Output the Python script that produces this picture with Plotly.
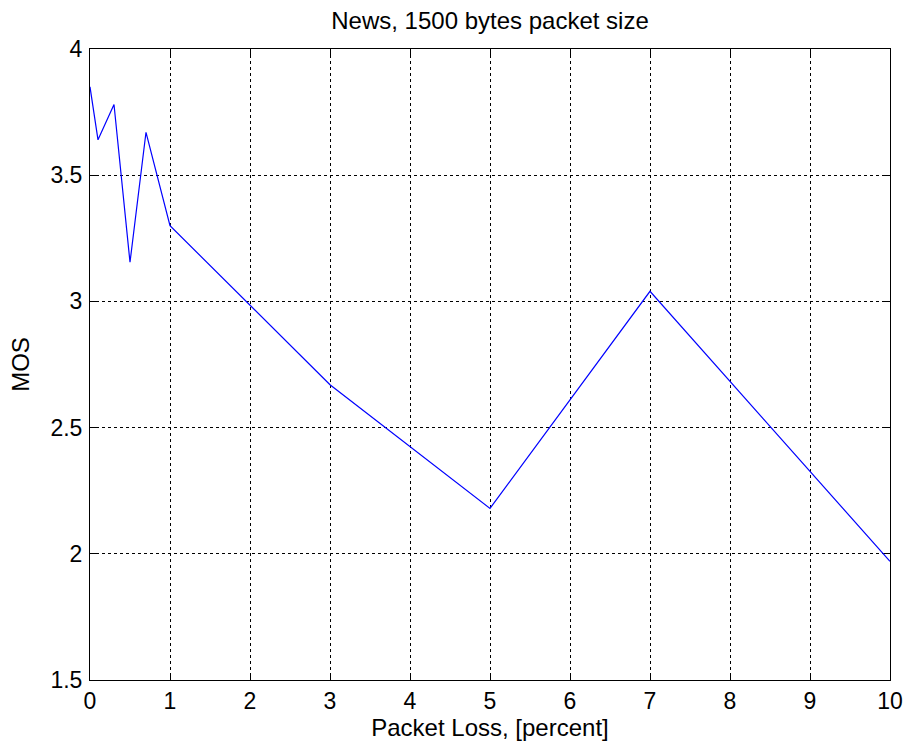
import plotly.graph_objects as go

packet_loss = [0, 0.1, 0.3, 0.5, 0.7, 1, 3, 5, 7, 10]
mos = [3.85, 3.64, 3.78, 3.155, 3.67, 3.30, 2.67, 2.18, 3.04, 1.97]

x_ticks = list(range(0, 11))
y_ticks = [1.5, 2, 2.5, 3, 3.5, 4]
y_tick_labels = ["1.5", "2", "2.5", "3", "3.5", "4"]

font_family = "Liberation Sans, Arial, sans-serif"
fs_tick = 23
fs_text = 24

fig = go.Figure()
fig.add_trace(go.Scatter(x=packet_loss, y=mos, mode="lines",
                         line=dict(color="#0000ff", width=1.2), showlegend=False))

axis_common = dict(showline=True, linecolor="black", linewidth=1, mirror="ticks",
                   ticks="inside", ticklen=6, tickcolor="black",
                   showgrid=True, gridcolor="black", gridwidth=1, griddash="dot",
                   zeroline=False, automargin=False,
                   tickfont=dict(family=font_family, size=fs_tick, color="black"))

fig.update_layout(
    width=907, height=748,
    paper_bgcolor="white", plot_bgcolor="white",
    margin=dict(l=90, r=17, t=49, b=68),
    title=dict(text="News, 1500 bytes packet size", x=0.5, xref="paper", xanchor="center",
               y=1 - 21 / 748, yanchor="middle",
               font=dict(family=font_family, size=fs_text, color="black")),
    xaxis=dict(range=[0, 10], tickvals=x_ticks, ticklabelstandoff=0,
               title=dict(text="Packet Loss, [percent]", standoff=0,
                          font=dict(family=font_family, size=fs_text, color="black")),
               **axis_common),
    yaxis=dict(range=[1.5, 4], tickvals=y_ticks, ticktext=y_tick_labels,
               ticklabelstandoff=2,
               title=dict(text="MOS", standoff=14,
                          font=dict(family=font_family, size=fs_text, color="black")),
               **axis_common),
)

fig.write_html("out.html", config={"displayModeBar": False},
               post_script="document.body.style.margin='0';document.body.style.overflow='hidden';")
